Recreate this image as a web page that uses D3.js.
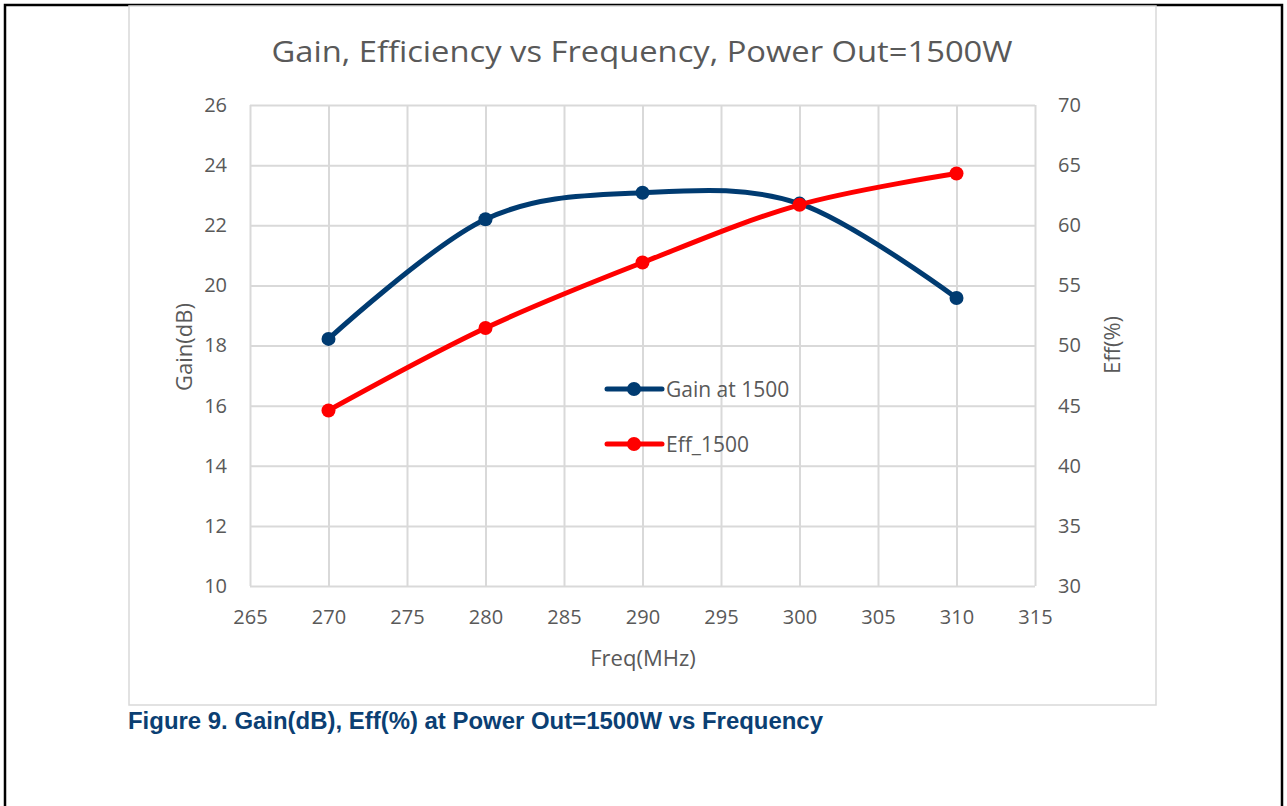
<!DOCTYPE html>
<html>
<head>
  <meta charset="utf-8">
  <title>Gain, Efficiency vs Frequency</title>
  <script src="https://d3js.org/d3.v7.min.js"></script>
  <style>
    body { margin: 0; background: #fff; }
    .grid line { stroke: #d9d9d9; stroke-width: 2; }
    .grid .domain { stroke: none; }
    .axis text { fill: #595959; font-family: "Open Sans", sans-serif; font-size: 20px; }
    .axis .domain, .axis line { stroke: none; }
  </style>
</head>
<body>
  <svg id="chart" width="1287" height="806"></svg>

  <script>
    // data
    const freq = [270, 280, 290, 300, 310];
    const gain = [18.22, 22.2, 23.08, 22.72, 19.58];
    const eff = [44.6, 51.45, 56.9, 61.7, 64.3];
    const xTicks = [265, 270, 275, 280, 285, 290, 295, 300, 305, 310, 315];
    const gainTicks = [10, 12, 14, 16, 18, 20, 22, 24, 26];
    const effTicks = [30, 35, 40, 45, 50, 55, 60, 65, 70];
    const seriesNames = ["Gain at 1500", "Eff_1500"];
    const seriesColors = ["#003b71", "#ff0000"];

    const svg = d3.select("#chart");
    const font = "'Open Sans', sans-serif";

    // outer page frame and chart box
    svg.append("path").attr("d", "M5,806 V5 H1282 V806")
       .attr("fill", "none").attr("stroke", "#000").attr("stroke-width", 2.5);
    svg.append("rect").attr("x", 129).attr("y", 6).attr("width", 1027).attr("height", 699)
       .attr("fill", "#fff").attr("stroke", "#d9d9d9").attr("stroke-width", 1.5);

    const plotL = 250, plotR = 1035, plotT = 105, plotB = 586;
    const x = d3.scaleLinear().domain([265, 315]).range([plotL, plotR]);
    const yL = d3.scaleLinear().domain([10, 26]).range([plotB, plotT]);
    const yR = d3.scaleLinear().domain([30, 70]).range([plotB, plotT]);

    // gridlines
    svg.append("g").attr("class", "grid")
       .attr("transform", "translate(0," + plotB + ")")
       .call(d3.axisBottom(x).tickValues(xTicks).tickSize(-(plotB - plotT)).tickFormat(""));
    svg.append("g").attr("class", "grid")
       .attr("transform", "translate(" + plotL + ",0)")
       .call(d3.axisLeft(yL).tickValues(gainTicks).tickSize(-(plotR - plotL)).tickFormat(""));

    // axes labels
    svg.append("g").attr("class", "axis")
       .attr("transform", "translate(0," + (plotB + 20) + ")")
       .call(d3.axisBottom(x).tickValues(xTicks).tickSize(0).tickPadding(4));
    svg.append("g").attr("class", "axis")
       .attr("transform", "translate(" + (plotL - 23) + ",0)")
       .call(d3.axisLeft(yL).tickValues(gainTicks).tickSize(0).tickPadding(0));
    svg.append("g").attr("class", "axis")
       .attr("transform", "translate(" + (plotR + 23) + ",0)")
       .call(d3.axisRight(yR).tickValues(effTicks).tickSize(0).tickPadding(0));

    // titles
    svg.append("text").attr("x", 642).attr("y", 62).attr("text-anchor", "middle")
       .attr("font-family", font).attr("font-size", 30).attr("fill", "#595959")
       .attr("textLength", 741).attr("lengthAdjust", "spacingAndGlyphs")
       .text("Gain, Efficiency vs Frequency, Power Out=1500W");
    svg.append("text").attr("x", 643).attr("y", 666).attr("text-anchor", "middle")
       .attr("font-family", font).attr("font-size", 22).attr("fill", "#595959")
       .text("Freq(MHz)");
    svg.append("text").attr("transform", "translate(192,347) rotate(-90)").attr("text-anchor", "middle")
       .attr("font-family", font).attr("font-size", 22).attr("fill", "#595959")
       .text("Gain(dB)");
    svg.append("text").attr("transform", "translate(1120,345) rotate(-90)").attr("text-anchor", "middle")
       .attr("font-family", font).attr("font-size", 22).attr("fill", "#595959")
       .text("Eff(%)");

    // lines
    const gainData = freq.map((f, i) => ({ f: f, v: gain[i] }));
    const effData = freq.map((f, i) => ({ f: f, v: eff[i] }));
    const series = [
      { data: gainData, y: yL, color: seriesColors[0] },
      { data: effData, y: yR, color: seriesColors[1] }
    ];
    series.forEach(s => {
      const line = d3.line().x(d => x(d.f)).y(d => s.y(d.v)).curve(d3.curveCardinal.tension(0));
      svg.append("path").datum(s.data).attr("d", line)
         .attr("fill", "none").attr("stroke", s.color).attr("stroke-width", 5)
         .attr("stroke-linejoin", "round");
      svg.append("g").selectAll("circle").data(s.data).join("circle")
         .attr("cx", d => x(d.f)).attr("cy", d => s.y(d.v)).attr("r", 7)
         .attr("fill", s.color);
    });

    // legend
    const legend = svg.append("g").attr("transform", "translate(607,389)");
    seriesNames.forEach((name, i) => {
      const g = legend.append("g").attr("transform", "translate(0," + (i * 55) + ")");
      g.append("line").attr("x1", 0).attr("x2", 55).attr("y1", 0).attr("y2", 0)
       .attr("stroke", seriesColors[i]).attr("stroke-width", 5).attr("stroke-linecap", "round");
      g.append("circle").attr("cx", 27).attr("cy", 0).attr("r", 7).attr("fill", seriesColors[i]);
      g.append("text").attr("x", 59).attr("y", 8)
       .attr("font-family", font).attr("font-size", 21).attr("fill", "#595959")
       .text(name);
    });

    // figure caption
    svg.append("text").attr("x", 128).attr("y", 729)
       .attr("font-family", "'Liberation Sans', Arial, sans-serif").attr("font-weight", "bold")
       .attr("font-size", 23).attr("fill", "#0b3f73")
       .attr("textLength", 695).attr("lengthAdjust", "spacingAndGlyphs")
       .text("Figure 9. Gain(dB), Eff(%) at Power Out=1500W vs Frequency");
  </script>
</body>
</html>
